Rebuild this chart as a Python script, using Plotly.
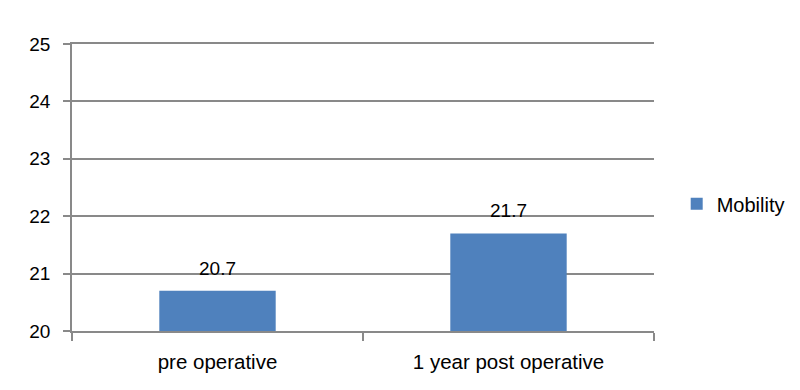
import plotly.graph_objects as go

categories = ["pre operative", "1 year post operative"]
mobility = [20.7, 21.7]
value_labels = ["20.7", "21.7"]
series_name = "Mobility"

FONT = "Liberation Sans, Arial, sans-serif"
GRID = "#898989"

fig = go.Figure()
fig.add_trace(go.Bar(
    x=categories, y=mobility, name=series_name,
    marker=dict(color="#4F81BD", line=dict(width=0)),
    width=0.4,
    showlegend=True,
))

for c, v, t in zip(categories, mobility, value_labels):
    fig.add_annotation(x=c, y=v, text=t, showarrow=False, yanchor="bottom",
                       yshift=10, font=dict(size=19, color="black", family=FONT))

fig.update_layout(
    width=800, height=390,
    margin=dict(l=64, r=154, t=36, b=67, autoexpand=False),
    paper_bgcolor="white", plot_bgcolor="white",
    font=dict(family=FONT, size=19, color="black"),
    showlegend=True,
    legend=dict(x=1.039, xanchor="left", y=0.443, yanchor="middle",
                font=dict(size=20), bgcolor="rgba(0,0,0,0)"),
)
fig.update_xaxes(
    type="category", showgrid=False, showline=True, linecolor=GRID, linewidth=1.5,
    mirror=True,
    ticks="outside", tickson="boundaries", ticklen=8, tickcolor=GRID, tickwidth=1.5,
    tickfont=dict(size=20.5), ticklabelstandoff=12, automargin=False,
)
fig.update_yaxes(
    range=[20, 25], dtick=1, tick0=20, showgrid=True, gridcolor=GRID, gridwidth=1.5,
    showline=True, linecolor=GRID, linewidth=1.5,
    ticks="outside", ticklen=7, tickcolor=GRID, tickwidth=1.5,
    tickfont=dict(size=19), zeroline=False, ticklabelstandoff=9, automargin=False,
)

fig.write_html("out.html")
